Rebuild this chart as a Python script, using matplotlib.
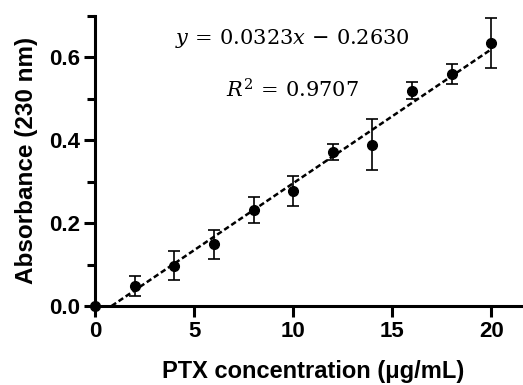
import matplotlib
matplotlib.use("Agg")
import matplotlib.pyplot as plt
from matplotlib.ticker import MultipleLocator, FormatStrFormatter
import numpy as np

# Data
conc = [0, 2, 4, 6, 8, 10, 12, 14, 16, 18, 20]
absorb = [0.0, 0.048, 0.097, 0.149, 0.231, 0.278, 0.371, 0.389, 0.519, 0.560, 0.635]
err = [0.0, 0.024, 0.035, 0.035, 0.031, 0.036, 0.019, 0.061, 0.020, 0.024, 0.060]
slope = 0.0323
intercept = -0.027
eq_text = r"$y\,=\,0.0323x\,-\,0.2630$"
r2_text = r"$R^2\,=\,0.9707$"

plt.rcParams['font.family'] = ['Liberation Sans', 'DejaVu Sans']
plt.rcParams['mathtext.fontset'] = 'dejavuserif'

fig = plt.figure(figsize=(5.23, 3.85), dpi=100)
ax = fig.add_axes([95/523, 0.2052, 1 - 95/523, 0.754])

ax.errorbar(conc, absorb, yerr=err, fmt='o', color='black', ms=7,
            ecolor='black', elinewidth=1.2, capsize=4, capthick=1.2, clip_on=False, zorder=3)

x0 = -intercept / slope
xl = np.array([x0, 20])
ax.plot(xl, slope * xl + intercept, linestyle=(0, (2.2, 1.2)), color='black', lw=1.8, zorder=2)

ax.set_xlim(0, 21.6)
ax.set_ylim(0, 0.7)
ax.xaxis.set_major_locator(MultipleLocator(5))
ax.yaxis.set_major_locator(MultipleLocator(0.2))
ax.yaxis.set_minor_locator(MultipleLocator(0.1))
ax.yaxis.set_major_formatter(FormatStrFormatter('%.1f'))

for s in ['top', 'right']:
    ax.spines[s].set_visible(False)
for s in ['left', 'bottom']:
    ax.spines[s].set_linewidth(2.2)

ax.tick_params(axis='both', which='major', width=2.2, length=8, labelsize=16, pad=3)
ax.tick_params(axis='y', which='minor', width=2.2, length=5.5)
for lab in ax.get_xticklabels() + ax.get_yticklabels():
    lab.set_fontweight('bold')

ax.set_xlabel("PTX concentration (μg/mL)", fontsize=17, fontweight='bold', va='center')
ax.set_ylabel("Absorbance (230 nm)", fontsize=17.5, fontweight='bold', va='center')
ax.xaxis.set_label_coords(0.509, -0.227)
ax.yaxis.set_label_coords(-0.161, 0.5)

fig.text(292/523, 1 - 39/385, eq_text, ha='center', va='center', fontsize=15)
fig.text(292/523, 1 - 90/385, r2_text, ha='center', va='center', fontsize=15)

fig.savefig("out.png", dpi=100)
